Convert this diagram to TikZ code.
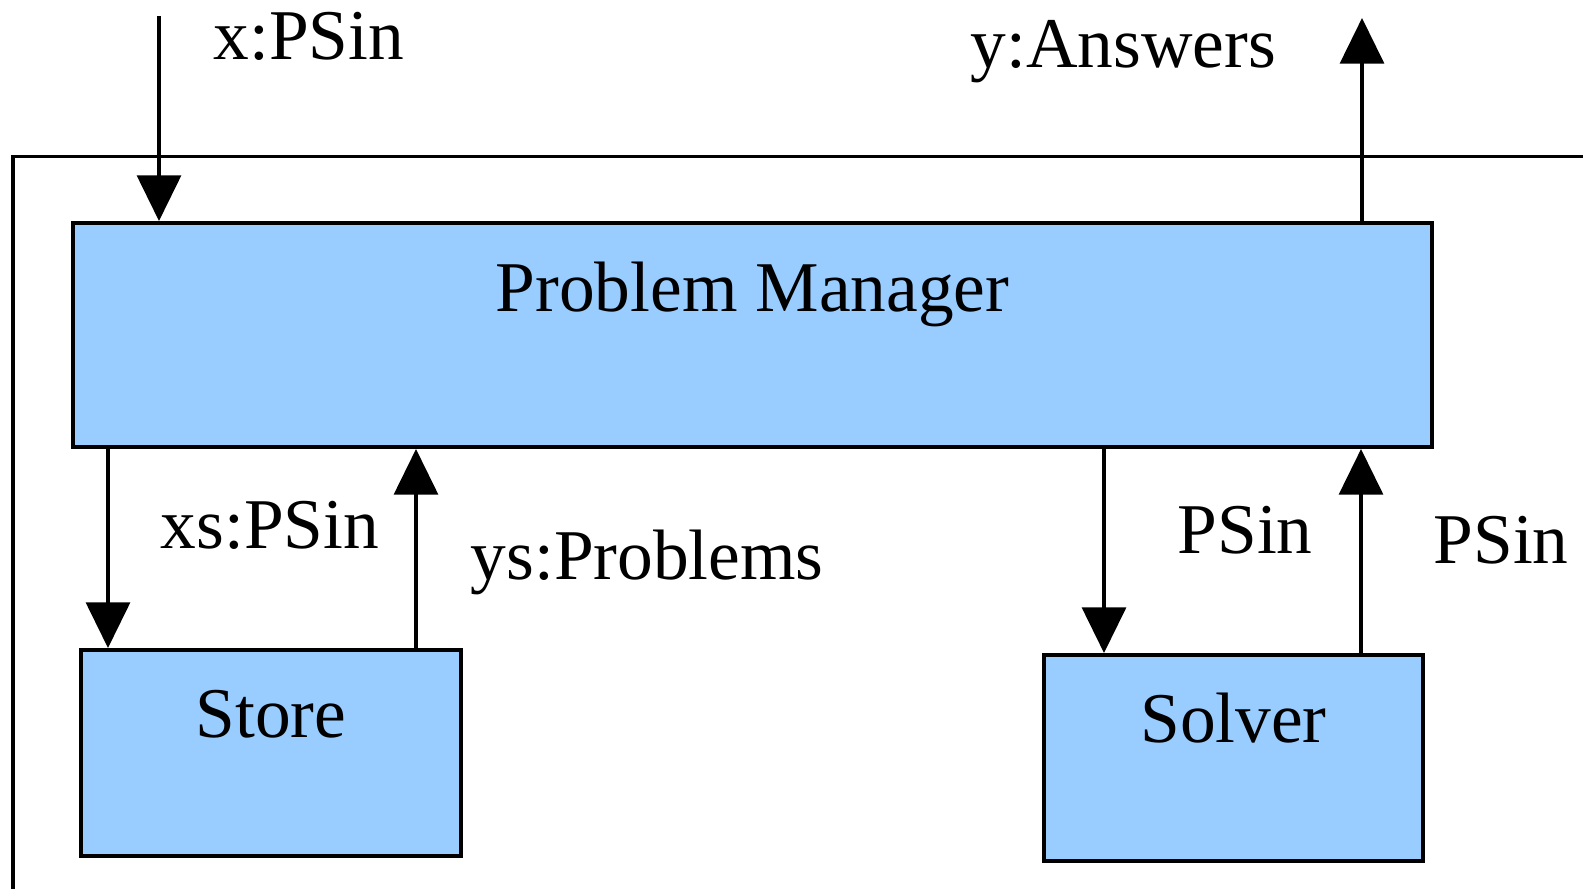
\documentclass[tikz,border=0pt]{standalone}
\usepackage{fontspec}
\setmainfont{Liberation Serif}
\usetikzlibrary{arrows.meta,positioning}
\definecolor{boxblue}{HTML}{99CCFF}

\begin{document}
\begin{tikzpicture}[x=0.01cm, y=-0.01cm,
        block/.style={draw, line width=1.1pt, fill=boxblue, inner sep=0pt, text height=14pt, font=\fontsize{20.3pt}{24pt}\selectfont},
        lbl/.style={inner sep=0pt, anchor=base west, font=\fontsize{20.3pt}{24pt}\selectfont},
        flow/.style={line width=1pt, -{Triangle[length=13pt, width=12.5pt]}}]
        \useasboundingbox (0,0) rectangle (1583,888);
        \clip (0,0) rectangle (1583,888);

        % Cluster frame, runs off to the right and bottom
        \draw[line width=1.1pt] (13,1000) |- (1700,156.5);

        % Components
        \node[block, minimum width=13.59cm, minimum height=2.24cm, text depth=27.3pt] (manager) at (752.5,335) {Problem Manager};
        \node[block, minimum width=3.8cm, minimum height=2.06cm, text depth=23.1pt] (store) at (271,753) {Store};
        \node[block, minimum width=3.79cm, minimum height=2.06cm, text depth=23.1pt] (solver) at (1233.5,758) {Solver};

        % Ports outside the frame and x positions of the inner links
        \coordinate (xin) at (159,16);
        \coordinate (yout) at (1362,18);
        \coordinate (tostore) at (108,0);
        \coordinate (fromstore) at (416,0);
        \coordinate (tosolver) at (1104,0);
        \coordinate (fromsolver) at (1361,0);

        % Connectors
        \draw[flow] (xin) -- (xin |- manager.north);
        \draw[flow] (yout |- manager.north) -- (yout);
        \draw[flow] (tostore |- manager.south) -- (tostore |- store.north);
        \draw[flow] (fromstore |- store.north) -- (fromstore |- manager.south);
        \draw[flow] (tosolver |- manager.south) -- (tosolver |- solver.north);
        \draw[flow] (fromsolver |- solver.north) -- (fromsolver |- manager.south);

        % Link labels
        \node[lbl] (xinlbl) at (213,60) {x:PSin};
        \node[lbl] (youtlbl) at (970,68) {y:Answers};
        \node[lbl] (tostorelbl) at (160,548) {xs:PSin};
        \node[lbl] (fromstorelbl) at (470,579) {ys:Problems};
        \node[lbl] (tosolverlbl) at (1177,553) {PSin};
        \node[lbl] (fromsolverlbl) at (1433,563) {PSin};
\end{tikzpicture}
\end{document}
